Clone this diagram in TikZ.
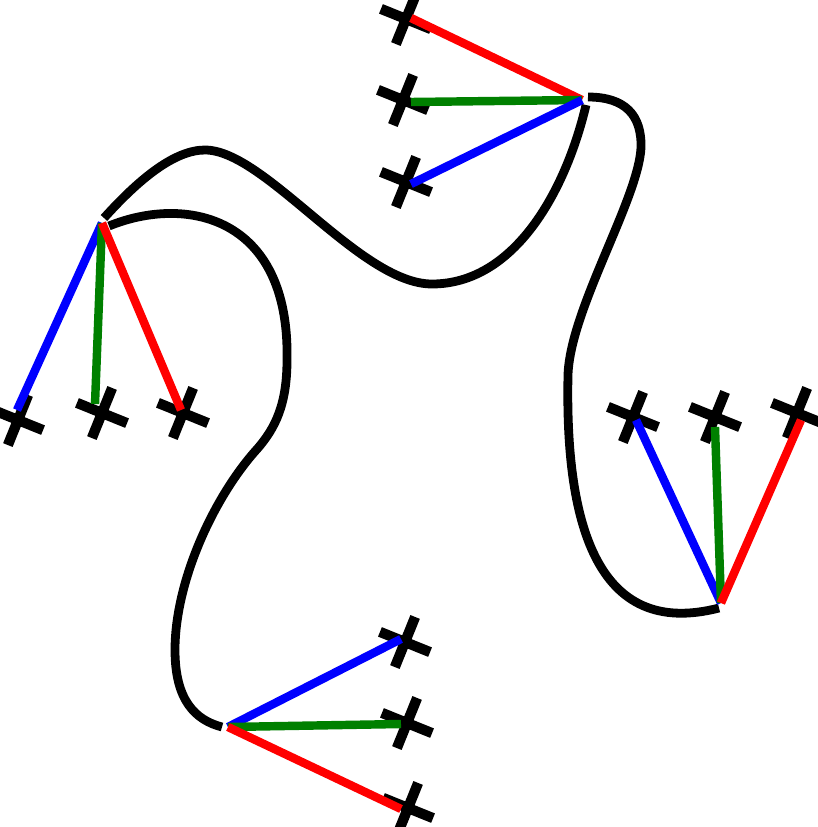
\documentclass[tikz,border=0pt]{standalone}
\usepackage{xcolor}
\usepackage{tikz}
\usetikzlibrary{shapes.misc}

\colorlet{dgreen}{green!50!black}
\tikzset{
    target/.style={cross out, draw=black, line width=2.9pt, minimum size=0.28cm, inner sep=0pt, rotate=23},
    curve/.style={line width=2.5pt},
    ray/.style={line width=2.4pt},
}

\begin{document}
\begin{tikzpicture}[x=0.01cm, y=-0.01cm]
            \useasboundingbox (0, 0) rectangle (818, 827);

            % hubs
            \coordinate (hT) at (582, 100);
            \coordinate (hL) at (102, 223);
            \coordinate (hR) at (721, 603);
            \coordinate (hB) at (228, 727);

            % targets
            \node[target] (tTr) at (406, 19) {};
            \node[target] (tTg) at (403, 100) {};
            \node[target] (tTb) at (406, 182) {};
            \node[target] (tLb) at (18, 420) {};
            \node[target] (tLg) at (102, 413) {};
            \node[target] (tLr) at (183, 413) {};
            \node[target] (tRb) at (633, 417) {};
            \node[target] (tRg) at (715, 417) {};
            \node[target] (tRr) at (797, 413) {};
            \node[target] (tBb) at (405, 642) {};
            \node[target] (tBg) at (407, 723) {};
            \node[target] (tBr) at (408, 808) {};

            % ray ends
            \coordinate (eTr) at (411, 18);
            \coordinate (eTg) at (411, 102);
            \coordinate (eTb) at (411, 184);
            \coordinate (eLb) at (17, 410);
            \coordinate (eLg) at (95, 404);
            \coordinate (eLr) at (181, 410);
            \coordinate (eRb) at (636, 420);
            \coordinate (eRg) at (715, 427);
            \coordinate (eRr) at (801, 420);
            \coordinate (eBb) at (401, 639);
            \coordinate (eBg) at (401, 724);
            \coordinate (eBr) at (401, 809);

            % curves
            \draw[curve] (104, 218) .. controls (140, 178) and (175, 150) .. (205, 150)
                .. controls (265, 150) and (360, 284) .. (432, 284)
                .. controls (515, 284) and (566, 190) .. (586, 105); % L-T
            \draw[curve] (588, 97) .. controls (625, 97) and (642, 115) .. (641, 148)
                .. controls (638, 200) and (570, 310) .. (568, 375)
                .. controls (565, 520) and (595, 640) .. (719, 608); % T-R
            \draw[curve] (109, 226) .. controls (185, 195) and (290, 215) .. (287, 360)
                .. controls (287, 405) and (275, 428) .. (258, 448)
                .. controls (215, 495) and (175, 580) .. (175, 650)
                .. controls (175, 700) and (195, 720) .. (222, 727); % L-B

            % rays
            \draw[ray, red] (hT) -- (eTr);
            \draw[ray, dgreen] (hT) -- (eTg);
            \draw[ray, blue] (hT) -- (eTb);
            \draw[ray, blue] (hL) -- (eLb);
            \draw[ray, dgreen] (hL) -- (eLg);
            \draw[ray, red] (hL) -- (eLr);
            \draw[ray, blue] (hR) -- (eRb);
            \draw[ray, dgreen] (hR) -- (eRg);
            \draw[ray, red] (hR) -- (eRr);
            \draw[ray, blue] (hB) -- (eBb);
            \draw[ray, dgreen] (hB) -- (eBg);
            \draw[ray, red] (hB) -- (eBr);
        \end{tikzpicture}
\end{document}
